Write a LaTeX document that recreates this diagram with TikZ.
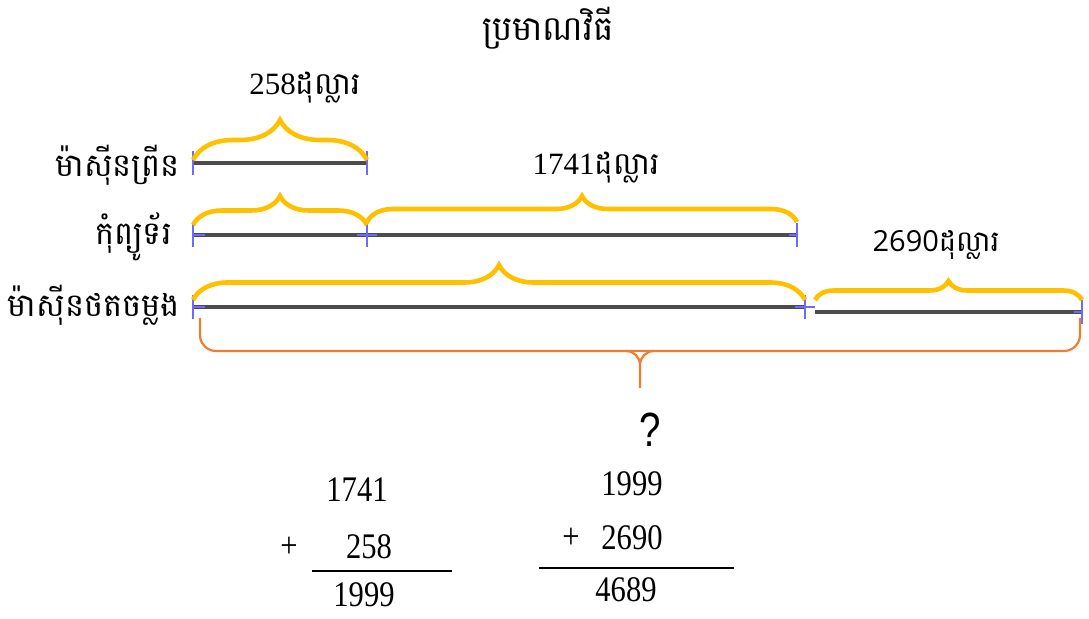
\documentclass[tikz,border=0pt]{standalone}
\usepackage{fontspec}
\setmainfont{Liberation Serif}
\newfontfamily\khmerfont[Script=Khmer]{Battambang}
\newfontfamily\digitsans{Open Sans}
\newfontfamily\sumfont[FakeStretch=0.85]{Liberation Serif}
\newfontfamily\askfont[FakeStretch=0.8]{Liberation Sans}
\usetikzlibrary{decorations.pathreplacing}
\definecolor{bracegold}{HTML}{FFC000}
\definecolor{braceorange}{HTML}{ED7D31}
\definecolor{tickblue}{HTML}{6B6BFF}

\begin{document}
\begin{tikzpicture}[x=0.5pt, y=-0.5pt,
	every node/.style={inner sep=0pt},
	bar/.style={line width=2pt, black!70},
	tickmark/.style={tickblue, line width=1.3pt},
	goldbrace/.style={bracegold, line width=2.3pt, decorate, decoration={brace, amplitude=#1}},
	khtext/.style={font=\khmerfont\fontsize{16}{18}\selectfont},
	amount/.style={font=\fontsize{15.5}{18}\selectfont},
	sum/.style={font=\sumfont\fontsize{18}{21}\selectfont}]
	\useasboundingbox (0,0) rectangle (1089,619);
	% title
	\node[khtext, font=\khmerfont\fontsize{17}{19}\selectfont] (title) at (548,28) {ប្រមាណវិធី};
	% bars
	\coordinate (p0) at (193,163); \coordinate (p1) at (367,163);
	\coordinate (c0) at (193,235); \coordinate (c1) at (367,235); \coordinate (c2) at (797,235);
	\coordinate (m0) at (193,307); \coordinate (m1) at (805,307);
	\coordinate (m2) at (815,312); \coordinate (m3) at (1082,312);
	\node[khtext, anchor=east] (printer) at (180,165) {ម៉ាស៊ីនព្រីន};
	\node[khtext, anchor=east] (computer) at (172,237) {កុំព្យូទ័រ};
	\node[khtext, anchor=east] (copier) at (180,305) {ម៉ាស៊ីនថតចម្លង};
	\draw[bar] (p0) -- (p1);
	\draw[bar] (c0) -- (c2);
	\draw[bar] (m0) -- (m1);
	\draw[bar] (m2) -- (m3);
	\foreach \pt in {p0,p1,c0,c1,c2,m0,m1,m3}
		\draw[tickmark] ([yshift=6pt]\pt) -- ([yshift=-6pt]\pt);
	\foreach \pt in {c0,m0}
		\draw[tickmark] (\pt) -- ([xshift=6pt]\pt);
	\foreach \pt in {c1,m1}
		\draw[tickmark] ([xshift=-5pt]\pt) -- ([xshift=5pt]\pt);
	\foreach \pt in {c2,m3}
		\draw[tickmark] ([xshift=-4pt]\pt) -- (\pt);
	% braces
	\draw[goldbrace=20pt] ([yshift=1.5pt]p0) -- ([yshift=1.5pt]p1);
	\draw[goldbrace=14.5pt] ([yshift=5pt]c0) -- ([yshift=5pt]c1);
	\draw[goldbrace=13pt] ([yshift=6.5pt]c1) -- ([yshift=6.5pt]c2);
	\draw[goldbrace=17.5pt] ([yshift=3.5pt]m0) -- ([yshift=3.5pt]m1);
	\draw[goldbrace=9.5pt] ([yshift=6pt]m2) -- ([yshift=6pt]m3);
	\node[amount] (cost1) at (305,88) {258\khmerfont ដុល្លារ};
	\node[amount] (cost2) at (596,168) {1741\khmerfont ដុល្លារ};
	\node[amount] (cost3) at (936,245) {\digitsans\fontsize{14.5}{17}\selectfont 2690\khmerfont ដុល្លារ};
	% total
	\draw[braceorange, line width=1.1pt, rounded corners=8pt]
		(200,318) -- (200,351) -- (1080,351) -- (1080,318);
	\draw[braceorange, line width=1.1pt, rounded corners=7pt]
		(628,351) -| (640,388) (652,351) -| (640,388);
	\node[font=\askfont\fontsize{24}{26}\selectfont] (total) at (650,430) {?};
	% sums
	\node[sum] (a1) at (357,490) {1741};
	\node[sum] (aplus) at (289,547) {+};
	\node[sum] (a2) at (369,547) {258};
	\draw[line width=0.8pt] (312,571) -- (452,571);
	\node[sum] (a3) at (364,595) {1999};
	\node[sum] (b1) at (632,484) {1999};
	\node[sum] (bplus) at (571,538) {+};
	\node[sum] (b2) at (632,538) {2690};
	\draw[line width=0.8pt] (539,568) -- (734,568);
	\node[sum] (b3) at (626,590) {4689};
\end{tikzpicture}
\end{document}
